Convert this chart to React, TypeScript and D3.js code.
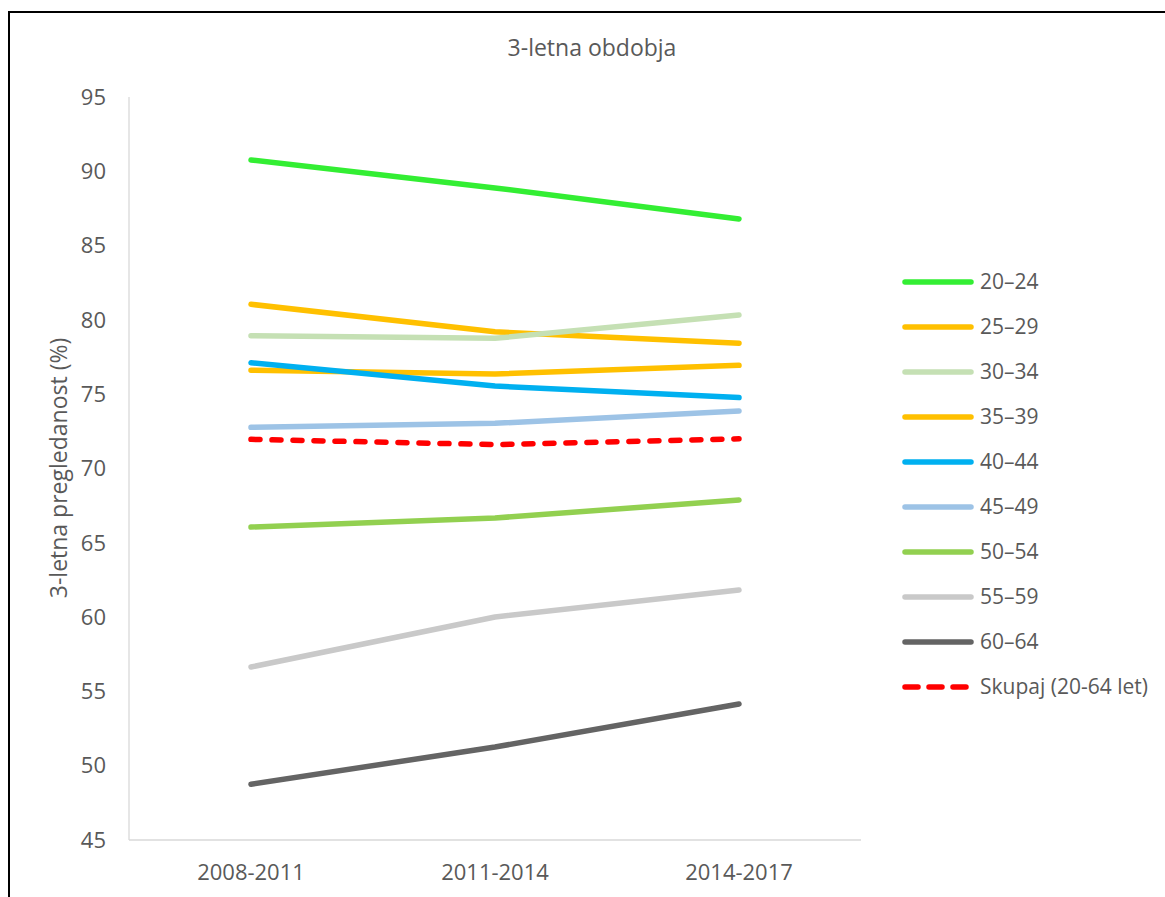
import React, { useEffect, useRef } from 'react';
import * as d3 from 'd3';

// periods on the x axis
const periods = ['2008-2011', '2011-2014', '2014-2017'];

// age groups, in legend order
const groups = ['20–24', '25–29', '30–34', '35–39', '40–44', '45–49', '50–54', '55–59', '60–64', 'Skupaj (20-64 let)'];

const g2024 = [90.76, 88.88, 86.79];
const g2529 = [81.05, 79.2, 78.43];
const g3034 = [78.94, 78.76, 80.33];
const g3539 = [76.61, 76.36, 76.94];
const g4044 = [77.12, 75.55, 74.77];
const g4549 = [72.77, 73.04, 73.87];
const g5054 = [66.06, 66.67, 67.88];
const g5559 = [56.64, 60.01, 61.82];
const g6064 = [48.75, 51.26, 54.15];
const total = [71.96, 71.61, 72.0];

const seriesValues = [g2024, g2529, g3034, g3539, g4044, g4549, g5054, g5559, g6064, total];

const colors = ['#33EE33', '#FFC000', '#C5E0B4', '#FFC000', '#00B0F0', '#9DC3E6', '#92D050', '#C9C9C9', '#646464', '#FF0000'];

const yTicks = [45, 50, 55, 60, 65, 70, 75, 80, 85, 90, 95];

const FONT = '"Open Sans", sans-serif';
const TEXT = '#595959';

const App = () => {
  const svgRef = useRef<SVGSVGElement>(null);

  useEffect(() => {
    const svg = d3.select(svgRef.current);
    svg.selectAll('*').remove();

    const left = 129, right = 861, top = 97, bottom = 840;

    const x = d3.scaleBand().domain(periods).range([left, right]);
    const y = d3.scaleLinear().domain([45, 95]).range([bottom, top]);
    const cx = (p: string) => (x(p) ?? 0) + x.bandwidth() / 2;

    // outer frame (cut off at right and bottom)
    svg.append('path')
      .attr('d', 'M9,897 L9,12 L1165,12')
      .attr('fill', 'none')
      .attr('stroke', '#000')
      .attr('stroke-width', 2);

    svg.append('text')
      .attr('x', 592)
      .attr('y', 56)
      .attr('text-anchor', 'middle')
      .attr('font-family', FONT)
      .attr('font-size', 23)
      .attr('fill', TEXT)
      .text('3-letna obdobja');

    // axis lines
    svg.append('line')
      .attr('x1', left).attr('x2', left)
      .attr('y1', top).attr('y2', bottom)
      .attr('stroke', '#D9D9D9').attr('stroke-width', 1.3);
    svg.append('line')
      .attr('x1', left).attr('x2', right)
      .attr('y1', bottom).attr('y2', bottom)
      .attr('stroke', '#D9D9D9').attr('stroke-width', 1.3);

    svg.append('g')
      .selectAll('text')
      .data(yTicks)
      .enter()
      .append('text')
      .attr('x', 106)
      .attr('y', d => y(d))
      .attr('dy', '0.35em')
      .attr('text-anchor', 'end')
      .attr('font-family', FONT)
      .attr('font-size', 22)
      .attr('fill', TEXT)
      .text(d => d);

    svg.append('g')
      .selectAll('text')
      .data(periods)
      .enter()
      .append('text')
      .attr('x', d => cx(d))
      .attr('y', 880)
      .attr('text-anchor', 'middle')
      .attr('font-family', FONT)
      .attr('font-size', 22)
      .attr('fill', TEXT)
      .text(d => d);

    svg.append('text')
      .attr('transform', 'translate(67, 468) rotate(-90)')
      .attr('text-anchor', 'middle')
      .attr('font-family', FONT)
      .attr('font-size', 23)
      .attr('fill', TEXT)
      .text('3-letna pregledanost (%)');

    const line = d3.line<number>()
      .x((_, i) => cx(periods[i]))
      .y(d => y(d));

    seriesValues.forEach((vals, i) => {
      const dashed = i === seriesValues.length - 1;
      svg.append('path')
        .datum(vals)
        .attr('d', line)
        .attr('fill', 'none')
        .attr('stroke', colors[i])
        .attr('stroke-width', 5.5)
        .attr('stroke-linecap', 'round')
        .attr('stroke-linejoin', 'round')
        .attr('stroke-dasharray', dashed ? '9 12' : null);
    });

    // legend
    const legend = svg.append('g');
    groups.forEach((name, i) => {
      const ly = 282 + i * 45;
      const dashed = i === groups.length - 1;
      legend.append('line')
        .attr('x1', 905).attr('x2', 971)
        .attr('y1', ly).attr('y2', ly)
        .attr('stroke', colors[i])
        .attr('stroke-width', 5.5)
        .attr('stroke-linecap', 'round')
        .attr('stroke-dasharray', dashed ? '13 11' : null);
      legend.append('text')
        .attr('x', 980)
        .attr('y', ly)
        .attr('dy', '0.35em')
        .attr('font-family', FONT)
        .attr('font-size', 21)
        .attr('fill', TEXT)
        .text(name);
    });
  }, []);

  return (
    <svg ref={svgRef} width={1165} height={897}
      style={{ position: 'absolute', left: 0, top: 0, background: '#fff' }} />
  );
};

export default App;
